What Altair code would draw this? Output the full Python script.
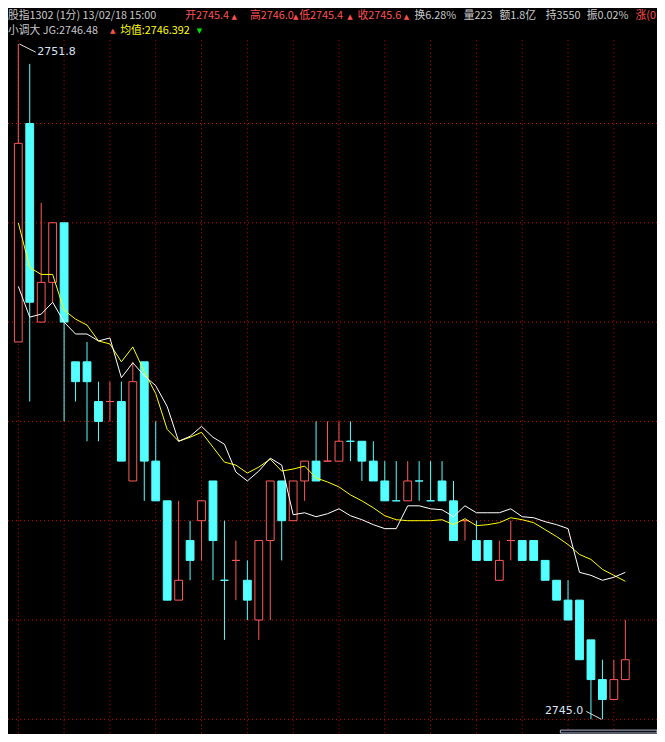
import altair as alt
import pandas as pd

# ---------------- data (1-minute bars, 股指1302) ----------------
idx = list(range(54))
opens = [2748.8, 2751.0, 2749.0, 2749.4, 2750.0, 2748.6, 2748.6, 2748.2, 2748.2, 2748.2,
         2747.4, 2748.6, 2747.6, 2747.2, 2746.2, 2746.8, 2747.0, 2747.4, 2746.4, 2746.6,
         2746.4, 2746.0, 2746.8, 2747.4, 2747.0, 2747.4, 2747.6, 2747.6, 2747.6, 2747.8,
         2747.8, 2747.6, 2747.4, 2747.2, 2747.2, 2747.4, 2747.2, 2747.4, 2747.2, 2747.0,
         2746.8, 2746.8, 2746.4, 2746.8, 2746.8, 2746.8, 2746.6, 2746.4, 2746.2, 2746.2,
         2745.8, 2745.4, 2745.2, 2745.4]
highs = [2751.8, 2751.6, 2750.2, 2750.0, 2750.0, 2748.6, 2748.8, 2748.4, 2748.4, 2748.4,
         2748.6, 2748.6, 2748.0, 2747.2, 2747.2, 2747.0, 2747.2, 2747.4, 2747.0, 2746.8,
         2746.6, 2746.8, 2747.4, 2747.4, 2747.4, 2747.6, 2748.0, 2748.0, 2748.0, 2748.0,
         2747.8, 2747.8, 2747.6, 2747.6, 2747.6, 2747.6, 2747.6, 2747.6, 2747.4, 2747.0,
         2747.0, 2746.8, 2746.8, 2747.0, 2746.8, 2746.8, 2746.6, 2746.4, 2746.4, 2746.2,
         2745.8, 2745.6, 2745.6, 2746.0]
lows = [2748.8, 2748.2, 2749.0, 2749.2, 2748.0, 2748.2, 2747.8, 2747.8, 2748.0, 2747.6,
        2747.4, 2747.2, 2747.2, 2746.2, 2746.2, 2746.4, 2746.6, 2746.4, 2745.8, 2746.2,
        2746.0, 2745.8, 2746.0, 2746.6, 2747.0, 2747.2, 2747.4, 2747.6, 2747.6, 2747.6,
        2747.4, 2747.4, 2747.2, 2747.2, 2747.2, 2747.2, 2747.2, 2747.2, 2746.8, 2746.8,
        2746.6, 2746.6, 2746.4, 2746.6, 2746.6, 2746.6, 2746.4, 2746.2, 2746.0, 2745.6,
        2745.0, 2745.0, 2745.2, 2745.4]
closes = [2750.8, 2749.2, 2749.4, 2750.0, 2749.0, 2748.4, 2748.4, 2748.0, 2748.2, 2747.6,
          2748.4, 2747.6, 2747.2, 2746.2, 2746.4, 2746.6, 2747.2, 2746.8, 2746.4, 2746.6,
          2746.2, 2746.8, 2747.4, 2747.0, 2747.4, 2747.6, 2747.4, 2747.6, 2747.8, 2747.8,
          2747.6, 2747.4, 2747.2, 2747.2, 2747.4, 2747.4, 2747.2, 2747.2, 2746.8, 2747.0,
          2746.6, 2746.6, 2746.6, 2746.8, 2746.6, 2746.6, 2746.4, 2746.2, 2746.0, 2745.6,
          2745.4, 2745.2, 2745.4, 2745.6]
# 1 = up bar (red, hollow), 0 = down bar (cyan, filled)
up = [1, 0, 1, 1, 0, 0, 0, 0, 1, 0,
      1, 0, 0, 0, 1, 0, 1, 0, 0, 1,
      0, 1, 1, 0, 1, 1, 0, 1, 1, 0,
      0, 0, 0, 0, 1, 0, 0, 0, 0, 1,
      0, 0, 1, 1, 0, 0, 0, 0, 0, 0,
      0, 0, 1, 1]
# 均值 (average price, yellow)
avg_line = [2750.00, 2749.55, 2749.48, 2749.48, 2749.12, 2749.03, 2748.97, 2748.81, 2748.78, 2748.60,
            2748.75, 2748.50, 2748.28, 2747.92, 2747.80, 2747.84, 2747.89, 2747.74, 2747.59, 2747.56,
            2747.48, 2747.54, 2747.62, 2747.50, 2747.52, 2747.55, 2747.43, 2747.39, 2747.34, 2747.26,
            2747.20, 2747.13, 2747.05, 2747.01, 2747.00, 2747.00, 2747.00, 2747.01, 2746.96, 2747.02,
            2746.95, 2746.96, 2746.98, 2747.03, 2747.01, 2746.98, 2746.91, 2746.84, 2746.76, 2746.66,
            2746.61, 2746.51, 2746.45, 2746.39]
# JG (white)
jg_line = [2749.36, 2749.05, 2749.08, 2749.20, 2749.00, 2748.88, 2748.88, 2748.81, 2748.84, 2748.44,
           2748.59, 2748.46, 2748.36, 2748.15, 2747.80, 2747.85, 2747.95, 2747.84, 2747.77, 2747.49,
           2747.40, 2747.50, 2747.63, 2747.56, 2747.06, 2747.08, 2747.04, 2747.07, 2747.12, 2747.05,
           2747.01, 2746.96, 2746.92, 2746.92, 2747.15, 2747.15, 2747.12, 2747.11, 2747.04, 2747.15,
           2747.08, 2747.08, 2747.08, 2747.12, 2747.04, 2747.03, 2746.99, 2746.96, 2746.92, 2746.48,
           2746.45, 2746.40, 2746.43, 2746.48]
grid_prices = [2745, 2746, 2747, 2748, 2749, 2750, 2751]
grid_bars = list(range(0, 54, 4))

header1 = ["股指1302 (1分) 13/02/18 15:00", "开2745.4", "高2746.0", "低2745.4", "收2745.6",
           "换6.28%", "量223", "额1.8亿", "持3550", "振0.02%", "涨(0"]
header1_kind = ["g", "r", "r", "r", "r", "g", "g", "g", "g", "g", "r"]
header2 = ["小调大 JG:2746.48", "均值:2746.392"]
header2_kind = ["g", "y"]

# ---------------- layout / styling ----------------
W, H = 649, 726
SX, SY = W / 665, H / 742
RED, CYAN, GRID = "#ff5858", "#54ffff", "#d80000"
TXT = {"g": "#c8c8c8", "r": "#ff5050", "y": "#ffff00"}
h1_x = [0, 181.5, 248, 298.5, 358, 416.5, 467, 503.5, 551, 593, 643]
h2_x = [0, 115]
arrow1_x = [229, 292, 347.5, 405.5]
arrow2 = [(104.5, "▲", "r"), (193.5, "▼", "green")]

xs = alt.Scale(domain=[-0.4614, 55.33], nice=False, zero=False)
ys = alt.Scale(domain=[2744.852, 2752.163], nice=False, zero=False)

df = pd.DataFrame({"i": idx, "open": opens, "high": highs, "low": lows,
                   "close": closes, "up": up, "avg": avg_line, "jg": jg_line})
df["col"] = [RED if u else CYAN for u in up]
df["fillc"] = ["#000000" if u else CYAN for u in up]

X = alt.X("i:Q", scale=xs, axis=None)

hgrid = alt.Chart(pd.DataFrame({"p": grid_prices})).mark_rule(
    color=GRID, strokeDash=[1, 3], strokeWidth=1
).encode(y=alt.Y("p:Q", scale=ys, axis=None), x=alt.value(0), x2=alt.value(W))

vgrid = alt.Chart(pd.DataFrame({"i": grid_bars})).mark_rule(
    color=GRID, strokeDash=[1, 3], strokeWidth=1
).encode(x=X, y=alt.value(33 * SY), y2=alt.value(H))

wicks = alt.Chart(df).mark_rule(strokeWidth=1).encode(
    x=X, y=alt.Y("low:Q", scale=ys, axis=None), y2="high:Q",
    color=alt.Color("col:N", scale=None))

bodies = alt.Chart(df).mark_bar(size=8 * SX, strokeWidth=1).encode(
    x=X, y=alt.Y("open:Q", scale=ys, axis=None), y2="close:Q",
    fill=alt.Fill("fillc:N", scale=None), stroke=alt.Stroke("col:N", scale=None))

yline = alt.Chart(df).mark_line(color="#ffff00", strokeWidth=1).encode(
    x=X, y=alt.Y("avg:Q", scale=ys, axis=None))
wline = alt.Chart(df).mark_line(color="#ffffff", strokeWidth=1).encode(
    x=X, y=alt.Y("jg:Q", scale=ys, axis=None))

# high / low annotations
hi_i = highs.index(max(highs))
lo_i = 51
hi_df = pd.DataFrame({"i": [hi_i], "p": [highs[hi_i]], "t": [f"{highs[hi_i]:.1f}"]})
lo_df = pd.DataFrame({"i": [lo_i], "p": [lows[lo_i]], "t": [f"{lows[lo_i]:.1f}"]})
LBL = "#d8e4f4"
hi_lead = alt.Chart(hi_df).mark_rule(color="#e0e0e0", strokeWidth=1,
                                     xOffset=1.2 * SX, x2Offset=17.8 * SX, y2Offset=8.3 * SY).encode(
    x=X, x2="i:Q", y=alt.Y("p:Q", scale=ys, axis=None), y2="p:Q")
hi_txt = alt.Chart(hi_df).mark_text(align="left", baseline="middle", dx=19.5 * SX, dy=8.5 * SY,
                                    font="DejaVu Sans", fontSize=11, color=LBL).encode(
    x=X, y=alt.Y("p:Q", scale=ys, axis=None), text="t:N")
lo_lead = alt.Chart(lo_df).mark_rule(color="#e0e0e0", strokeWidth=1,
                                     xOffset=-16.5 * SX, yOffset=-8 * SY, x2Offset=-1 * SX).encode(
    x=X, x2="i:Q", y=alt.Y("p:Q", scale=ys, axis=None), y2="p:Q")
lo_txt = alt.Chart(lo_df).mark_text(align="right", baseline="middle", dx=-19.5 * SX, dy=-8.7 * SY,
                                    font="DejaVu Sans", fontSize=11, color=LBL).encode(
    x=X, y=alt.Y("p:Q", scale=ys, axis=None), text="t:N")

# header
hdr = pd.DataFrame({
    "t": header1 + header2,
    "px": [v * SX for v in h1_x + h2_x],
    "py": [8.6 * SY] * len(header1) + [23.2 * SY] * len(header2),
    "c": [TXT[k] for k in header1_kind + header2_kind],
})
hdr_txt = alt.Chart(hdr).mark_text(align="left", baseline="middle", font="Noto Sans CJK SC",
                                   fontSize=10.8).encode(
    x=alt.X("px:Q", scale=None), y=alt.Y("py:Q", scale=None), text="t:N",
    color=alt.Color("c:N", scale=None))
arr = pd.DataFrame({
    "t": ["▲"] * len(arrow1_x) + [a[1] for a in arrow2],
    "px": [v * SX for v in arrow1_x + [a[0] for a in arrow2]],
    "py": [9.2 * SY] * len(arrow1_x) + [23.6 * SY] * len(arrow2),
    "c": [TXT["r"]] * len(arrow1_x) + [TXT["r"], "#00e000"],
})
arr_txt = alt.Chart(arr).mark_text(align="left", baseline="middle", font="DejaVu Sans",
                                   fontSize=7).encode(
    x=alt.X("px:Q", scale=None), y=alt.Y("py:Q", scale=None), text="t:N",
    color=alt.Color("c:N", scale=None))

# scroll indicator bottom right
scroll = alt.Chart(pd.DataFrame({"a": [0]})).mark_rect(
    fill="#101018", stroke="#a8b0c8", strokeWidth=1
).encode(x=alt.value(566 * SX), x2=alt.value(W), y=alt.value(738 * SY), y2=alt.value(741 * SY))

chart = alt.layer(
    hgrid, vgrid, wicks, bodies, yline, wline,
    hi_lead, hi_txt, lo_lead, lo_txt, hdr_txt, arr_txt, scroll
).properties(
    width=W, height=H, padding=0, background="#000000",
    autosize=alt.AutoSizeParams(type="none")
).configure_view(stroke=None, fill="#000000")

chart.save("out.html", embed_options={"renderer": "svg", "actions": False})
